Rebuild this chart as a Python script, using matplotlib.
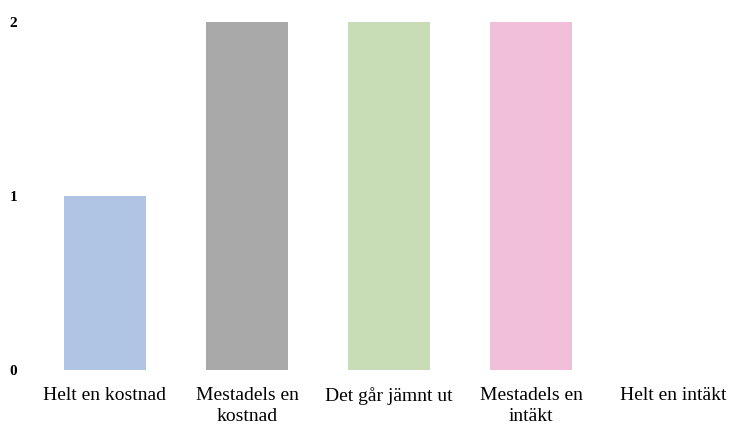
import matplotlib.pyplot as plt

categories = ['Helt en kostnad', 'Mestadels en\nkostnad', 'Det går jämnt ut',
              'Mestadels en\nintäkt', 'Helt en intäkt']
values = [1, 2, 2, 2, 0]
colors = ['#B0C4E4', '#A9A9A9', '#C8DDB5', '#F2BFD9', '#F5C9A6']

plt.rcParams['font.family'] = ['Liberation Serif', 'DejaVu Serif']

fig = plt.figure(figsize=(7.31, 4.28), dpi=100)
ax = fig.add_axes([30 / 731, 1 - 370 / 428, 701 / 731, 348 / 428])

x = range(len(categories))
ax.bar(x, values, width=0.58, color=colors)

ax.set_xlim(-0.528, 4.408)
ax.set_ylim(0, 2)
ax.set_yticks([0, 1, 2])
ax.set_yticklabels(['0', '1', '2'], fontweight='bold', fontsize=11)
ax.set_xticks(list(x))
ax.set_xticklabels(categories, fontsize=14, linespacing=1.3)
ax.tick_params(axis='both', length=0)
ax.tick_params(axis='x', pad=12)
ax.tick_params(axis='y', pad=9)
for s in ax.spines.values():
    s.set_visible(False)

fig.savefig('out.png', dpi=100)
